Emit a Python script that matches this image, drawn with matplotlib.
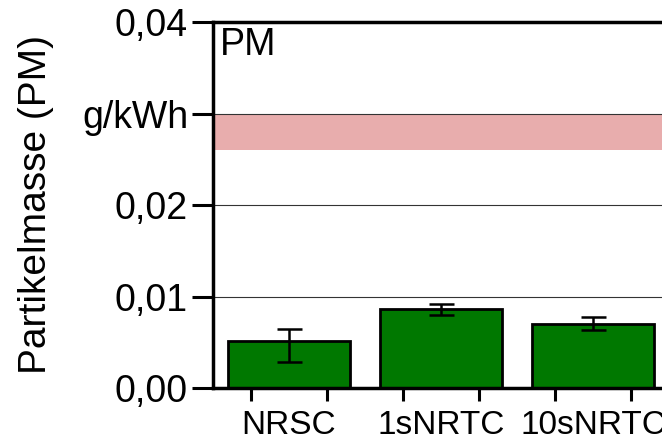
import numpy as np
import matplotlib.pyplot as plt

plt.rcParams['font.family'] = ['Liberation Sans', 'DejaVu Sans']

# Data
categories = ['NRSC', '1sNRTC', '10sNRTC']
pm_values = [0.0051, 0.0086, 0.0070]
err_low = [0.0023, 0.0006, 0.0007]
err_high = [0.0014, 0.0006, 0.0008]
limit_low = 0.026
limit_high = 0.030
ytick_vals = [0.00, 0.01, 0.02, 0.03, 0.04]
ytick_labels = ['0,00', '0,01', '0,02', 'g/kWh', '0,04']

fig = plt.figure(figsize=(6.62, 4.42), dpi=100)
ax = fig.add_axes([213 / 662, 54 / 442, 456 / 662, 366 / 442])

x = np.arange(len(categories))

# limit band and grid
ax.axhspan(limit_low, limit_high, color='#e8adad', zorder=0, lw=0)
for g in [0.01, 0.02, 0.03]:
    ax.axhline(g, color='#333333', lw=0.8, zorder=1)

ax.bar(x, pm_values, width=0.8, color='#007800', edgecolor='black',
       linewidth=2, zorder=2)
ax.errorbar(x, pm_values, yerr=[err_low, err_high], fmt='none',
            ecolor='black', elinewidth=1.8, capsize=9, capthick=1.8, zorder=3)

ax.set_xlim(-0.5, 2.5)
ax.set_ylim(0, 0.04)

ax.set_yticks(ytick_vals)
ax.set_yticklabels(ytick_labels, fontsize=27)
ax.tick_params(axis='y', direction='out', length=15, width=2.2, pad=3)

# labels under bars, tick marks between
ax.set_xticks(x)
ax.set_xticklabels(categories, fontsize=24)
ax.tick_params(axis='x', which='major', length=0, pad=16)
ax.set_xticks(np.concatenate([x - 0.25, x + 0.25]), minor=True)
ax.tick_params(axis='x', which='minor', direction='out', length=9, width=2.2)

ax.set_ylabel('Partikelmasse (PM)', fontsize=28, labelpad=20)
ax.text(0.015, 0.985, 'PM', transform=ax.transAxes, fontsize=27,
        va='top', ha='left')

for side in ['left', 'bottom', 'top']:
    ax.spines[side].set_linewidth(2.5)
ax.spines['right'].set_visible(False)

fig.savefig('out.png', dpi=100)
